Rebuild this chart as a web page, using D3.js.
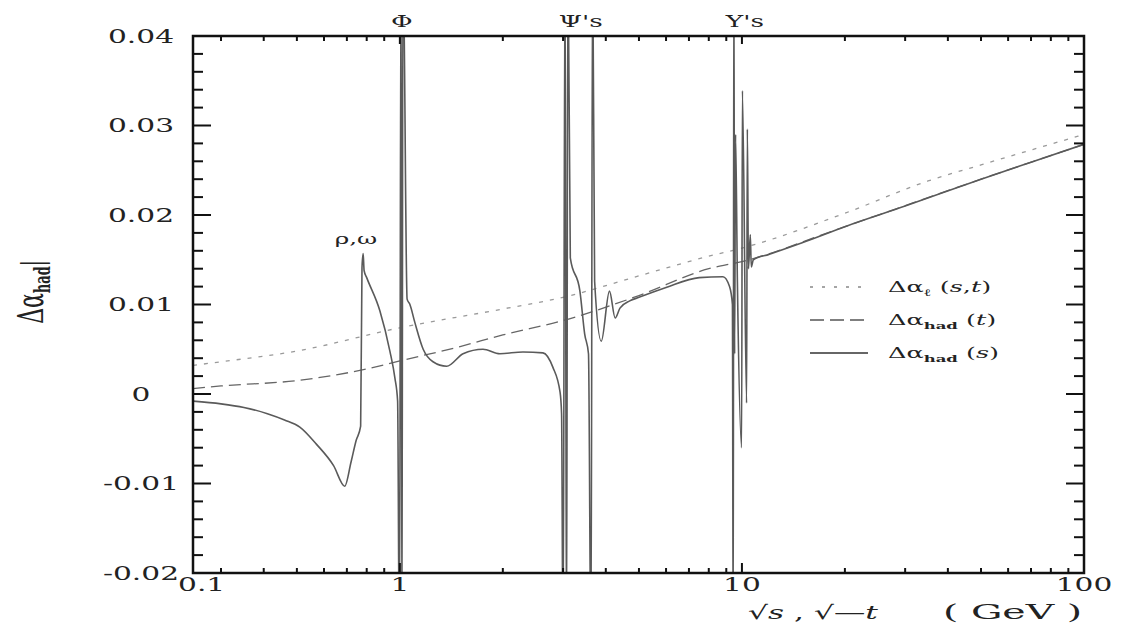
<!DOCTYPE html>
<html>
<head>
<meta charset="utf-8">
<script src="https://cdn.jsdelivr.net/npm/d3@7"></script>
<style>
  body { margin: 0; background: #fff; }
  svg { display: block; }
  text { font-family: "DejaVu Serif", serif; fill: #222; }
</style>
</head>
<body>
<svg id="chart" width="1126" height="625"></svg>
<script>
// ---- tick values and labels ----
const xMajorTicks = [0.1, 1, 10, 100];
const xTickLabels = ["0.1", "1", "10", "100"];
const xMinorTicks = [0.3, 0.4, 0.5, 0.6, 0.7, 0.8, 0.9,
                     2, 3, 4, 5, 6, 7, 8, 9,
                     20, 30, 40, 50, 60, 70, 80, 90];
const yMajorTicks = [-0.02, -0.01, 0, 0.01, 0.02, 0.03, 0.04];
const yTickLabels = ["-0.02", "-0.01", "0", "0.01", "0.02", "0.03", "0.04"];
const yMinorTicks = [-0.018, -0.016, -0.014, -0.012, -0.008, -0.006, -0.004, -0.002,
                     0.002, 0.004, 0.006, 0.008, 0.012, 0.014, 0.016, 0.018,
                     0.022, 0.024, 0.026, 0.028, 0.032, 0.034, 0.036, 0.038];

// ---- leptonic running, Δα_ℓ(s,t) ----
const leptonE = [0.1, 0.3, 0.5, 1, 2, 3, 5, 8, 10, 20, 35, 50, 100];
const leptonV = [0.0032, 0.0036, 0.0048, 0.0074, 0.0095, 0.0108, 0.0132, 0.0154, 0.0163, 0.0202, 0.0238, 0.0256, 0.0290];

// ---- hadronic, space-like Δα_had(t) ----
const hadTE = [0.1, 0.3, 0.5, 0.8, 1, 1.5, 2, 3, 5, 8, 10, 20, 50, 100];
const hadTV = [0.0006, 0.0009, 0.0015, 0.0028, 0.0037, 0.0053, 0.0066, 0.0082, 0.0110, 0.0140, 0.0148, 0.0187, 0.0240, 0.0279];

// ---- hadronic, time-like Δα_had(s) with resonances ----
const hadSE = [0.1, 0.3, 0.35, 0.41, 0.46, 0.51, 0.57, 0.64, 0.69, 0.72, 0.745, 0.768,
               0.775, 0.781, 0.786, 0.80, 0.874, 0.935, 0.967, 0.985,
               0.997, 1.008, 1.014, 1.021, 1.05, 1.07, 1.106, 1.17, 1.25, 1.37,
               1.53, 1.75, 1.96, 2.29, 2.62, 2.8, 2.94, 2.97,
               3.0, 3.04, 3.07, 3.10, 3.15, 3.36, 3.47, 3.56,
               3.62, 3.66, 3.71, 3.88, 4.1, 4.26, 4.4, 4.7, 5.0, 6.0, 7.5, 8.8, 9.2, 9.38,
               9.43, 9.47, 9.52, 9.58, 9.7, 9.98, 10.03, 10.32, 10.37, 10.45, 10.58, 10.65,
               10.8, 12, 15, 20, 30, 50, 70, 100];
const hadSV = [-0.0008, -0.0011, -0.0015, -0.0022, -0.0029, -0.0037, -0.0056, -0.0080, -0.0103, -0.0076, -0.0052, -0.0036,
               0.0141, 0.0157, 0.0138, 0.0130, 0.0093, 0.0048, 0.0018, -0.0008,
               -0.0300, 0.0500, -0.0300, 0.0500, 0.0106, 0.0100, 0.0080, 0.0050, 0.0036, 0.0031,
               0.0045, 0.0050, 0.0045, 0.0047, 0.0046, 0.0030, 0.0002, -0.0022,
               -0.0300, 0.0500, -0.0300, 0.0500, 0.0152, 0.0115, 0.0067, 0.0045,
               -0.0300, 0.0500, 0.0126, 0.0059, 0.0115, 0.0085, 0.0096, 0.0104, 0.0108, 0.0119, 0.0130, 0.0131, 0.0120, 0.0100,
               -0.0300, 0.0500, 0.0045, 0.0290, 0.0125, -0.0060, 0.0339, -0.0010, 0.0296, 0.0140, 0.0178, 0.0142,
               0.0150, 0.0156, 0.0169, 0.0187, 0.0210, 0.0240, 0.0259, 0.0279];

// ---- annotations ----
const peakLabels = [
  { text: "Φ",   E: 1.013 },
  { text: "Ψ's", E: 3.38 },
  { text: "Υ's", E: 10.2 }
];
const rhoLabel = { text: "ρ,ω", E: 0.744, v: 0.0173 };

// ---- layout ----
const W = 1126, H = 625;
const margin = { top: 36, right: 42, bottom: 52, left: 193 };
const iw = W - margin.left - margin.right;
const ih = H - margin.top - margin.bottom;
const SX = 1.65;               // horizontal stretch of the lettering

const svg = d3.select("#chart");
const g = svg.append("g").attr("transform", `translate(${margin.left},${margin.top})`);

// log axis; the first segment (0.1 .. 0.3) is compressed
const x = d3.scaleLog().domain([0.1, 0.3, 100]).range([0, 28, iw]);
const y = d3.scaleLinear().domain([-0.02, 0.04]).range([ih, 0]);

svg.append("defs").append("clipPath").attr("id", "plotClip")
  .append("rect").attr("x", 0).attr("y", 0).attr("width", iw).attr("height", ih);

const plot = g.append("g").attr("clip-path", "url(#plotClip)");
const line = d3.line().x(d => x(d[0])).y(d => y(d[1])).curve(d3.curveMonotoneX);

plot.append("path")
  .datum(d3.zip(leptonE, leptonV))
  .attr("d", line).attr("fill", "none")
  .attr("stroke", "#9a9a9a").attr("stroke-width", 1.3)
  .attr("stroke-dasharray", "4,7");

plot.append("path")
  .datum(d3.zip(hadTE, hadTV))
  .attr("d", line).attr("fill", "none")
  .attr("stroke", "#666").attr("stroke-width", 1.3)
  .attr("stroke-dasharray", "12,6");

plot.append("path")
  .datum(d3.zip(hadSE, hadSV))
  .attr("d", line).attr("fill", "none")
  .attr("stroke", "#5a5a5a").attr("stroke-width", 1.6)
  .attr("stroke-linejoin", "round");

// ---- frame and ticks ----
g.append("rect").attr("x", 0).attr("y", 0).attr("width", iw).attr("height", ih)
  .attr("fill", "none").attr("stroke", "#111").attr("stroke-width", 2.5);

const ticks = g.append("g").attr("stroke", "#111").attr("stroke-width", 2);
yMajorTicks.forEach(v => {
  ticks.append("line").attr("x1", 0).attr("x2", 18).attr("y1", y(v)).attr("y2", y(v));
  ticks.append("line").attr("x1", iw).attr("x2", iw - 18).attr("y1", y(v)).attr("y2", y(v));
});
yMinorTicks.forEach(v => {
  ticks.append("line").attr("x1", 0).attr("x2", 10).attr("y1", y(v)).attr("y2", y(v));
  ticks.append("line").attr("x1", iw).attr("x2", iw - 10).attr("y1", y(v)).attr("y2", y(v));
});
xMajorTicks.slice(1, -1).forEach(e => {
  ticks.append("line").attr("x1", x(e)).attr("x2", x(e)).attr("y1", ih).attr("y2", ih - 10);
  ticks.append("line").attr("x1", x(e)).attr("x2", x(e)).attr("y1", 0).attr("y2", 8);
});
xMinorTicks.forEach(e => {
  ticks.append("line").attr("x1", x(e)).attr("x2", x(e)).attr("y1", ih).attr("y2", ih - 5);
  ticks.append("line").attr("x1", x(e)).attr("x2", x(e)).attr("y1", 0).attr("y2", 5);
});

// ---- stretched lettering helper ----
function label(parent, px, py, anchor, size) {
  return parent.append("text")
    .attr("transform", `translate(${px},${py}) scale(${SX},1)`)
    .attr("text-anchor", anchor)
    .attr("font-size", size);
}

yMajorTicks.forEach((v, i) => {
  label(g, -52, y(v) + 6.5, "middle", 18).text(yTickLabels[i]);
});
xMajorTicks.forEach((e, i) => {
  const first = i === 0;
  label(g, x(e) + (first ? -15 : 0), ih + 18, first ? "start" : "middle", 18).text(xTickLabels[i]);
});

// axis titles
const xt = label(g, 555, ih + 46, "start", 19);
xt.append("tspan").text("√");
xt.append("tspan").attr("font-style", "italic").text("s");
xt.append("tspan").text(" , √");
xt.append("tspan").text("—");
xt.append("tspan").attr("font-style", "italic").text("t");
label(g, 750, ih + 46, "start", 20)
  .attr("textLength", 139 / SX).attr("lengthAdjust", "spacingAndGlyphs")
  .attr("xml:space", "preserve").text("( GeV )");

const yt = g.append("text")
  .attr("transform", `translate(${-150},${256}) scale(${SX},1) rotate(-90)`)
  .attr("text-anchor", "middle").attr("font-size", 22);
yt.append("tspan").text("Δα");
yt.append("tspan").attr("font-size", 13).attr("font-weight", "bold").attr("dy", 4).text("had");
yt.append("tspan").attr("font-size", 18).attr("dy", -4).text("|");

// resonance names above the frame
peakLabels.forEach(p => {
  label(g, x(p.E), -9, "middle", 16).text(p.text);
});
label(g, x(rhoLabel.E), y(rhoLabel.v) + 5, "middle", 15).text(rhoLabel.text);

// ---- legend ----
const legendItems = [
  { dash: "3,9",  color: "#888", sub: "ℓ",   subBold: false, arg: ["s", ",", "t"] },
  { dash: "14,6", color: "#555", sub: "had", subBold: true,  arg: ["t"] },
  { dash: null,   color: "#333", sub: "had", subBold: true,  arg: ["s"] }
];
const legend = g.append("g").attr("transform", `translate(${810 - margin.left},${287 - margin.top})`);
legendItems.forEach((it, i) => {
  const ly = i * 33;
  const ln = legend.append("line").attr("x1", 0).attr("x2", 58).attr("y1", ly).attr("y2", ly)
    .attr("stroke", it.color).attr("stroke-width", 1.5);
  if (it.dash) ln.attr("stroke-dasharray", it.dash);
  const t = label(legend, 78, ly + 5, "start", 15.5);
  t.append("tspan").text("Δα");
  t.append("tspan").attr("font-size", 10).attr("dy", 4)
    .attr("font-weight", it.subBold ? "bold" : "normal").text(it.sub);
  t.append("tspan").attr("dy", -4).text(" (");
  it.arg.forEach(a => {
    if (a === ",") t.append("tspan").text(",");
    else t.append("tspan").attr("font-style", "italic").text(a);
  });
  t.append("tspan").text(")");
});
</script>
</body>
</html>
